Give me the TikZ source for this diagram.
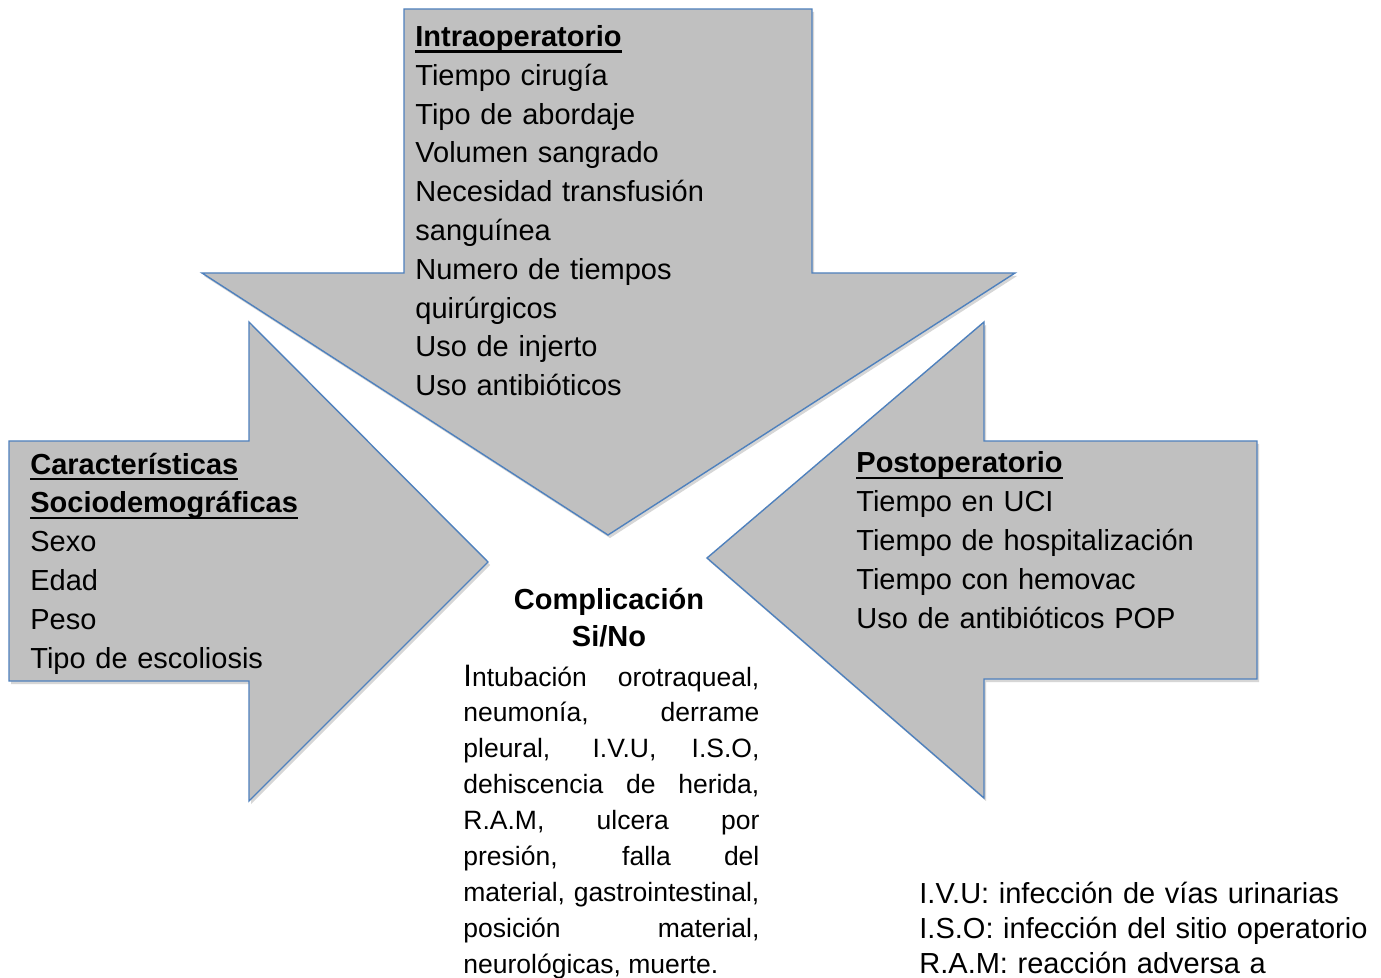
\documentclass[tikz,border=0pt]{standalone}
\usepackage{fontspec}
\setmainfont{Liberation Sans}
\definecolor{arrowfill}{HTML}{C0C0C0}
\definecolor{arrowline}{HTML}{4F81BD}
\definecolor{shadowgray}{HTML}{D6D6D6}
\newcommand\hdul[1]{\leavevmode\setbox0\hbox{\bfseries #1}\rlap{\rule[-3.15pt]{\wd0}{1.3pt}}\box0}
\begin{document}
\begin{tikzpicture}[x=0.5pt,y=-0.5pt,
  arrowshape/.style={fill=arrowfill, draw=arrowline, line width=0.7pt, line join=miter},
  shadowshape/.style={fill=shadowgray, draw=none},
  listtext/.style={anchor=base west, inner sep=0pt, text width=#1, align=left,
    font=\fontsize{14.5}{19.4}\selectfont},
  headtext/.style={anchor=base, inner sep=0pt, text width=160pt, align=center,
    font=\fontsize{14.5}{18.5}\selectfont\bfseries},
  justtext/.style={anchor=base west, inner sep=0pt, text width=148pt, align=justify,
    font=\fontsize{13.25}{17.95}\selectfont},
  notetext/.style={anchor=base west, inner sep=0pt, text width=240pt, align=left,
    font=\fontsize{14.5}{17.5}\selectfont}
]
\useasboundingbox[fill=white] (0,0) rectangle (1381,978);

% shadows
\begin{scope}[shift={(2,3)}]
\fill[shadowshape] (404,9) -- (812,9) -- (812,273) -- (1015,273) -- (608,535) -- (202,273) -- (404,273) -- cycle;
\fill[shadowshape] (9,441) -- (249,441) -- (249,322) -- (488,562) -- (249,801) -- (249,681) -- (9,681) -- cycle;
\fill[shadowshape] (1257,441) -- (984,441) -- (984,322) -- (707,558) -- (984,798) -- (984,679) -- (1257,679) -- cycle;
\end{scope}

% arrows
\draw[arrowshape] (404,9) -- (812,9) -- (812,273) -- (1015,273) -- (608,535) -- (202,273) -- (404,273) -- cycle;
\draw[arrowshape] (9,441) -- (249,441) -- (249,322) -- (488,562) -- (249,801) -- (249,681) -- (9,681) -- cycle;
\draw[arrowshape] (1257,441) -- (984,441) -- (984,322) -- (707,558) -- (984,798) -- (984,679) -- (1257,679) -- cycle;

% texts
\node[listtext=180pt] (intra) at (415,46.5) {\hdul{Intraoperatorio}\\Tiempo cirugía\\Tipo de abordaje\\Volumen sangrado\\Necesidad transfusión\\sanguínea\\Numero de tiempos\\quirúrgicos\\Uso de injerto\\Uso antibióticos};

\node[listtext=160pt] (socio) at (30,474) {\hdul{Características}\\\hdul{Sociodemográficas}\\Sexo\\Edad\\Peso\\Tipo de escoliosis};

\node[listtext=190pt] (post) at (856,473) {\hdul{Postoperatorio}\\Tiempo en UCI\\Tiempo de hospitalización\\Tiempo con hemovac\\Uso de antibióticos POP};

\node[headtext] (comp) at (609,609) {Complicación\\Si/No};

\node[justtext] (lista) at (463,686) {{\fontsize{15.5}{17.95}\selectfont I}ntubación orotraqueal,\linebreak neumonía, derrame\linebreak pleural, I.V.U, I.S.O,\linebreak dehiscencia de herida,\linebreak R.A.M, ulcera por\linebreak presión, falla del\linebreak material, gastrointestinal,\linebreak posición material,\linebreak neurológicas, muerte.};

\node[notetext] (notas) at (919,903) {I.V.U: infección de vías urinarias\\I.S.O: infección del sitio operatorio\\R.A.M: reacción adversa a};
\end{tikzpicture}
\end{document}
